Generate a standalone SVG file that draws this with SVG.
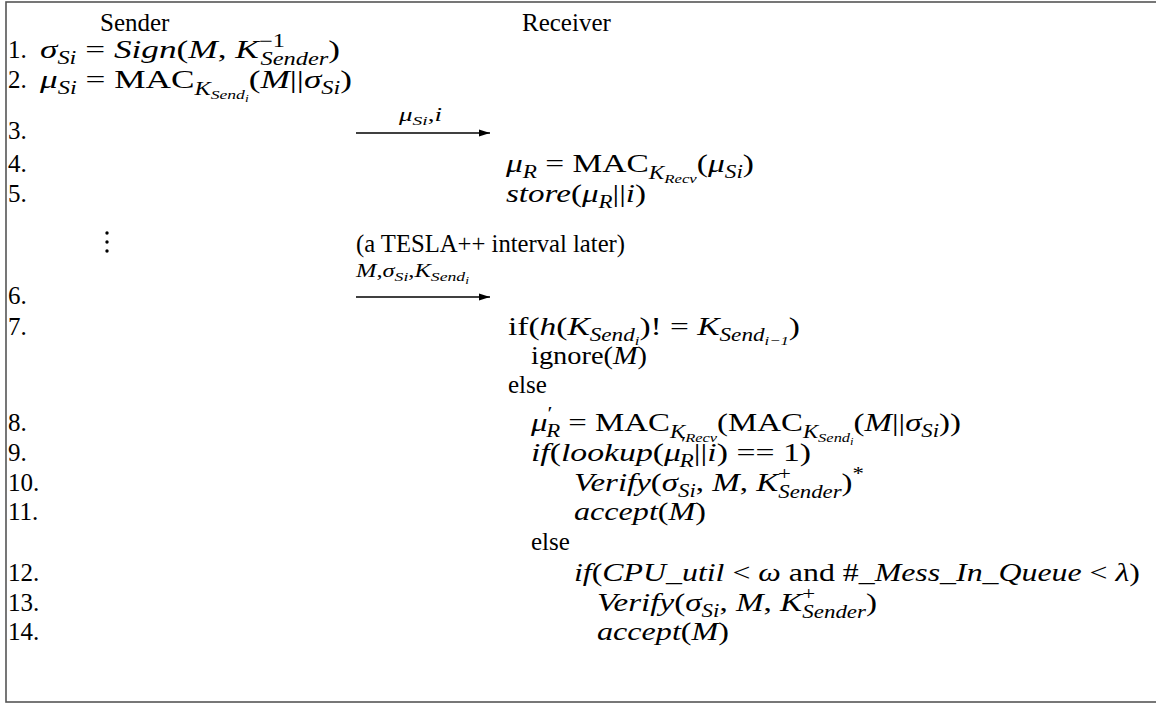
<svg xmlns="http://www.w3.org/2000/svg" width="1156" height="705" viewBox="0 0 1156 705">
  <defs>
    <marker id="head" viewBox="0 0 11 8" refX="11" refY="4" markerWidth="11" markerHeight="8" markerUnits="userSpaceOnUse" orient="auto">
      <path d="M0,0.5 L11,4 L0,7.5 Z" fill="#000"/>
    </marker>
    <style>
      text { font-family: "Liberation Serif", "Times New Roman", serif; font-size: 25px; fill: #000; }
      .m { font-size: 26px; }
      .i { font-style: italic; }
      .s { font-size: 18px; }
      .ss { font-size: 13px; }
      .sss { font-size: 10px; }
      .lbl { font-size: 18px; }
      .lbl .s { font-size: 13px; }
      .arrow { stroke: #000; stroke-width: 1.3; fill: none; marker-end: url(#head); }
    </style>
  </defs>

  <rect x="0" y="0" width="1156" height="705" fill="#fff"/>
  <rect x="6" y="2" width="1160" height="700" fill="none" stroke="#555" stroke-width="1.6"/>

  <!-- column headings -->
  <g id="headings">
    <text x="100" y="31">Sender</text>
    <text x="522" y="31">Receiver</text>
  </g>

  <!-- step numbers -->
  <g id="numbers">
    <text x="8" y="58">1.</text>
    <text x="8" y="88">2.</text>
    <text x="8" y="139">3.</text>
    <text x="8" y="172">4.</text>
    <text x="8" y="202">5.</text>
    <text x="8" y="304">6.</text>
    <text x="8" y="335">7.</text>
    <text x="8" y="431">8.</text>
    <text x="8" y="461">9.</text>
    <text x="8" y="491">10.</text>
    <text x="8" y="520">11.</text>
    <text x="8" y="581">12.</text>
    <text x="8" y="611">13.</text>
    <text x="8" y="640">14.</text>
  </g>

  <!-- sender side -->
  <g id="sender-sign">
    <text class="m" x="40" y="58" textLength="300" lengthAdjust="spacingAndGlyphs"><tspan class="i">σ</tspan><tspan class="s i" dy="6">Si</tspan><tspan dy="-6"> = </tspan><tspan class="i">Sign</tspan>(<tspan class="i">M</tspan>, <tspan class="i">K</tspan><tspan class="s" dy="-11">−1</tspan><tspan class="s i" dx="-18" dy="18">Sender</tspan><tspan dy="-7">)</tspan></text>
  </g>
  <g id="sender-mac">
    <text class="m" x="40" y="88" textLength="312" lengthAdjust="spacingAndGlyphs"><tspan class="i">μ</tspan><tspan class="s i" dy="6">Si</tspan><tspan dy="-6"> = MAC</tspan><tspan class="s i" dy="7">K</tspan><tspan class="ss i" dy="4">Send</tspan><tspan class="sss i" dy="3">i</tspan><tspan dy="-14">(</tspan><tspan class="i">M</tspan>||<tspan class="i">σ</tspan><tspan class="s i" dy="6">Si</tspan><tspan dy="-6">)</tspan></text>
  </g>
  <g id="dots">
    <circle cx="107" cy="233" r="1.7"/>
    <circle cx="107" cy="242" r="1.7"/>
    <circle cx="107" cy="251" r="1.7"/>
  </g>

  <!-- messages on the wire -->
  <g id="connectors">
    <line class="arrow" x1="356" y1="133" x2="490" y2="133"/>
    <line class="arrow" x1="356" y1="297" x2="490" y2="297"/>
  </g>
  <g id="msg-1-label">
    <text class="lbl" x="399" y="121" textLength="43" lengthAdjust="spacingAndGlyphs"><tspan class="i">μ</tspan><tspan class="s i" dy="4">Si</tspan><tspan dy="-4">,</tspan><tspan class="i">i</tspan></text>
  </g>
  <g id="interval-note">
    <text x="356" y="252" textLength="269" lengthAdjust="spacingAndGlyphs">(a TESLA++ interval later)</text>
  </g>
  <g id="msg-2-label">
    <text class="lbl" x="356" y="277" textLength="113" lengthAdjust="spacingAndGlyphs"><tspan class="i">M</tspan>,<tspan class="i">σ</tspan><tspan class="s i" dy="4">Si</tspan><tspan dy="-4">,</tspan><tspan class="i">K</tspan><tspan class="s i" dy="4">Send</tspan><tspan class="sss i" dy="3">i</tspan></text>
  </g>

  <!-- receiver side -->
  <g id="recv-mac">
    <text class="m" x="506" y="172" textLength="248" lengthAdjust="spacingAndGlyphs"><tspan class="i">μ</tspan><tspan class="s i" dy="6">R</tspan><tspan dy="-6"> = MAC</tspan><tspan class="s i" dy="7">K</tspan><tspan class="ss i" dy="4">Recv</tspan><tspan dy="-11">(</tspan><tspan class="i">μ</tspan><tspan class="s i" dy="6">Si</tspan><tspan dy="-6">)</tspan></text>
  </g>
  <g id="recv-store">
    <text class="m" x="506" y="202" textLength="140" lengthAdjust="spacingAndGlyphs"><tspan class="i">store</tspan>(<tspan class="i">μ</tspan><tspan class="s i" dy="6">R</tspan><tspan dy="-6">||</tspan><tspan class="i">i</tspan>)</text>
  </g>
  <g id="recv-check-key">
    <text class="m" x="508" y="335" textLength="292" lengthAdjust="spacingAndGlyphs">if(<tspan class="i">h</tspan>(<tspan class="i">K</tspan><tspan class="s i" dy="6">Send</tspan><tspan class="ss i" dy="4">i</tspan><tspan dy="-10">)! = </tspan><tspan class="i">K</tspan><tspan class="s i" dy="6">Send</tspan><tspan class="ss i" dy="4">i−1</tspan><tspan dy="-10">)</tspan></text>
  </g>
  <g id="recv-ignore">
    <text x="531" y="364" textLength="116" lengthAdjust="spacingAndGlyphs">ignore(<tspan class="m i">M</tspan>)</text>
  </g>
  <g id="recv-else-1">
    <text x="508" y="393">else</text>
  </g>
  <g id="recv-remac">
    <text class="m" x="531" y="431" textLength="430" lengthAdjust="spacingAndGlyphs"><tspan class="i">μ</tspan><tspan class="s" dy="-11">′</tspan><tspan class="s i" dx="-5" dy="17">R</tspan><tspan dy="-6"> = MAC</tspan><tspan class="s i" dy="7">K</tspan><tspan class="ss i" dy="4">Recv</tspan><tspan dy="-11">(MAC</tspan><tspan class="s i" dy="7">K</tspan><tspan class="ss i" dy="4">Send</tspan><tspan class="sss i" dy="3">i</tspan><tspan dy="-14">(</tspan><tspan class="i">M</tspan>||<tspan class="i">σ</tspan><tspan class="s i" dy="6">Si</tspan><tspan dy="-6">))</tspan></text>
  </g>
  <g id="recv-lookup">
    <text class="m" x="531" y="461" textLength="280" lengthAdjust="spacingAndGlyphs"><tspan class="i">if</tspan>(<tspan class="i">lookup</tspan>(<tspan class="i">μ</tspan><tspan class="s" dy="-11">′</tspan><tspan class="s i" dx="-5" dy="17">R</tspan><tspan dy="-6">||</tspan><tspan class="i">i</tspan>) == 1)</text>
  </g>
  <g id="recv-verify-1">
    <text class="m" x="574" y="491" textLength="290" lengthAdjust="spacingAndGlyphs"><tspan class="i">Verify</tspan>(<tspan class="i">σ</tspan><tspan class="s i" dy="6">Si</tspan><tspan dy="-6">, </tspan><tspan class="i">M</tspan>, <tspan class="i">K</tspan><tspan class="s" dy="-11">+</tspan><tspan class="s i" dx="-10" dy="18">Sender</tspan><tspan dy="-7">)</tspan><tspan class="s" dy="-11">*</tspan></text>
  </g>
  <g id="recv-accept-1">
    <text class="m" x="574" y="520" textLength="132" lengthAdjust="spacingAndGlyphs"><tspan class="i">accept</tspan>(<tspan class="i">M</tspan>)</text>
  </g>
  <g id="recv-else-2">
    <text x="531" y="550">else</text>
  </g>
  <g id="recv-load-check">
    <text class="m" x="574" y="581" textLength="566" lengthAdjust="spacingAndGlyphs"><tspan class="i">if</tspan>(<tspan class="i">CPU_util</tspan> &lt; <tspan class="i">ω</tspan> and #_<tspan class="i">Mess_In_Queue</tspan> &lt; <tspan class="i">λ</tspan>)</text>
  </g>
  <g id="recv-verify-2">
    <text class="m" x="597" y="611" textLength="280" lengthAdjust="spacingAndGlyphs"><tspan class="i">Verify</tspan>(<tspan class="i">σ</tspan><tspan class="s i" dy="6">Si</tspan><tspan dy="-6">, </tspan><tspan class="i">M</tspan>, <tspan class="i">K</tspan><tspan class="s" dy="-11">+</tspan><tspan class="s i" dx="-10" dy="18">Sender</tspan><tspan dy="-7">)</tspan></text>
  </g>
  <g id="recv-accept-2">
    <text class="m" x="597" y="640" textLength="132" lengthAdjust="spacingAndGlyphs"><tspan class="i">accept</tspan>(<tspan class="i">M</tspan>)</text>
  </g>
</svg>
